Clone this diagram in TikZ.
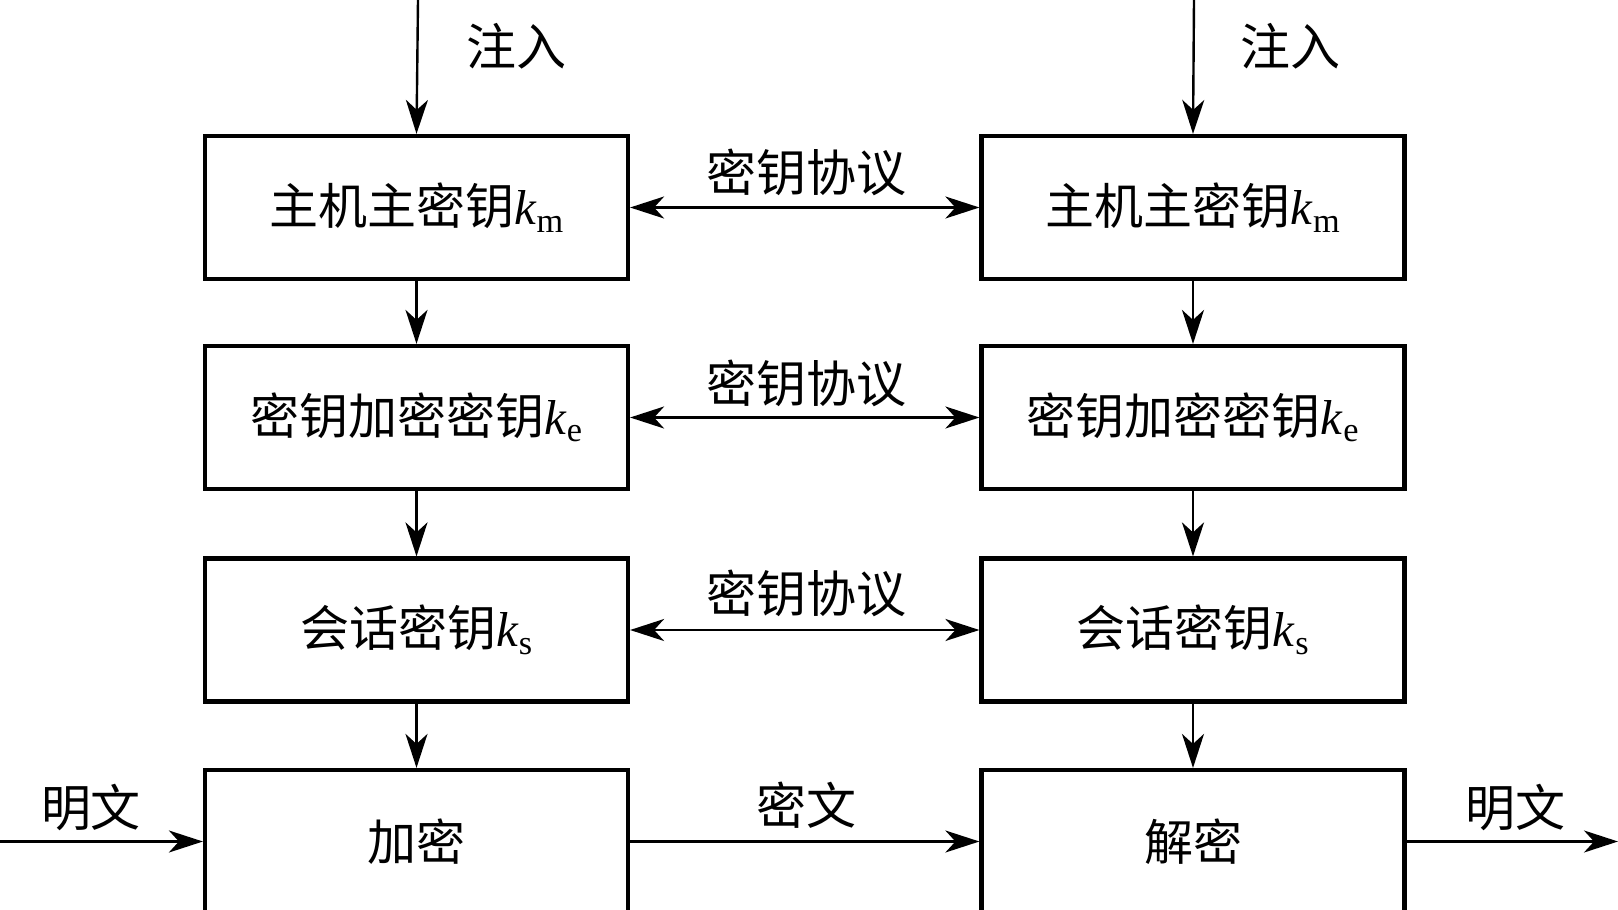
\documentclass[tikz,border=0pt]{standalone}
\usepackage{fontspec}
\setmainfont{Liberation Serif}
\newfontfamily\cjk{Noto Sans CJK SC}
\usetikzlibrary{arrows.meta}
\tikzset{
  box/.style={draw, line width=4.2pt, minimum width=423pt, minimum height=143pt, inner sep=0pt, font=\fontsize{49}{49}\selectfont},
  conn/.style={line width=2.4pt, -{Stealth[length=34pt,width=22pt,inset=10pt]}},
  biconn/.style={line width=2.4pt, {Stealth[length=34pt,width=22pt,inset=10pt]}-{Stealth[length=34pt,width=22pt,inset=10pt]}},
  lbl/.style={font=\fontsize{50}{50}\selectfont\cjk, inner sep=0pt}
}
\newcommand{\kk}[1]{\textit{k}\textsubscript{#1}}
\begin{document}
\begin{tikzpicture}[x=1pt,y=-1pt]
\useasboundingbox (0,0) rectangle (1618,910);
\clip (0,0) rectangle (1618,910);
% left column
\node[box] (L1) at (416.5,207.5) {{\cjk 主机主密钥}\kk{m}};
\node[box] (L2) at (416.5,417.5) {{\cjk 密钥加密密钥}\kk{e}};
\node[box] (L3) at (416.5,630) {{\cjk 会话密钥}\kk{s}};
\node[box] (L4) at (416.5,841.5) {\cjk 加密};
% right column
\node[box] (R1) at (1193,207.5) {{\cjk 主机主密钥}\kk{m}};
\node[box] (R2) at (1193,417.5) {{\cjk 密钥加密密钥}\kk{e}};
\node[box] (R3) at (1193,630) {{\cjk 会话密钥}\kk{s}};
\node[box] (R4) at (1193,841.5) {\cjk 解密};
% free ends
\coordinate (LT) at (418,0);
\coordinate (RT) at (1194,0);
\coordinate (IN) at (0,841.5);
\coordinate (OUT) at (1618,841.5);
% vertical arrows
\draw[conn] (LT) -- (L1.north);
\draw[conn] (RT) -- (R1.north);
\draw[conn] (L1.south) -- (L2.north);
\draw[conn] (L2.south) -- (L3.north);
\draw[conn] (L3.south) -- (L4.north);
\draw[conn] (R1.south) -- (R2.north);
\draw[conn] (R2.south) -- (R3.north);
\draw[conn] (R3.south) -- (R4.north);
% horizontal arrows
\draw[biconn] (L1.east) -- (R1.west);
\draw[biconn] (L2.east) -- (R2.west);
\draw[biconn] (L3.east) -- (R3.west);
\draw[conn] (L4.east) -- (R4.west);
\draw[conn] (IN) -- (L4.west);
\draw[conn] (R4.east) -- (OUT);
% labels
\node[lbl] (t1) at (516,46) {注入};
\node[lbl] (t2) at (1290,46) {注入};
\node[lbl] (p1) at (806,172) {密钥协议};
\node[lbl] (p2) at (806,383) {密钥协议};
\node[lbl] (p3) at (806,593) {密钥协议};
\node[lbl] (c1) at (806,805) {密文};
\node[lbl] (m1) at (91,807) {明文};
\node[lbl] (m2) at (1515,807) {明文};
\end{tikzpicture}
\end{document}
